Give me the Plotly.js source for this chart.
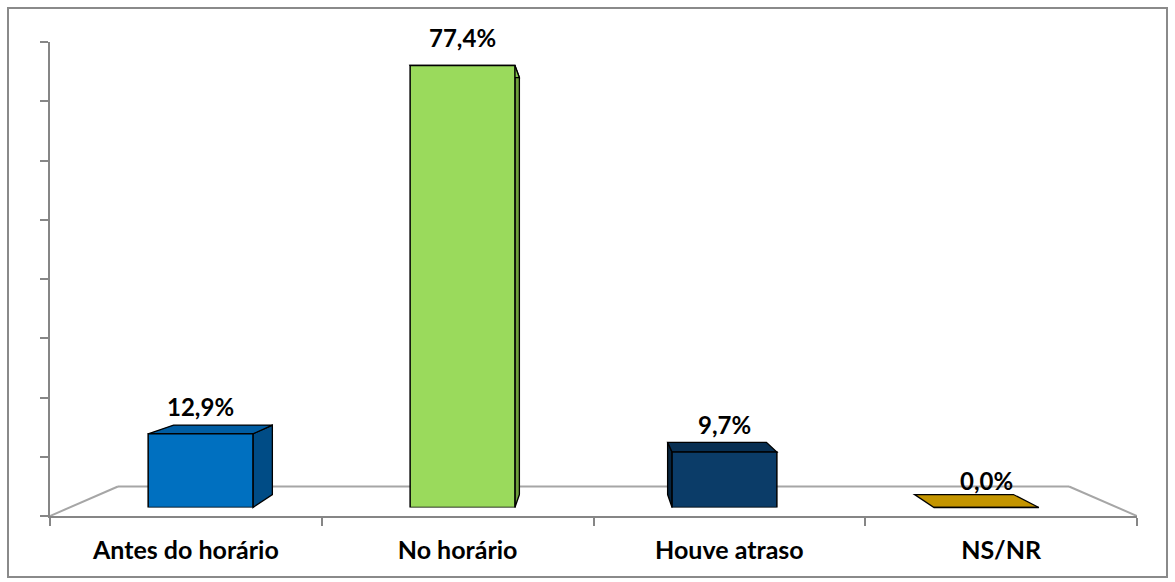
<!DOCTYPE html>
<html>
<head>
<meta charset="utf-8">
<script src="https://cdn.plot.ly/plotly-3.0.1.min.js"></script>
<style>
  html, body { margin: 0; padding: 0; background: #ffffff; }
  #chart { width: 1175px; height: 582px; }
</style>
</head>
<body>
<div id="chart"></div>
<script>
// ---- data ----
const categories = ['Antes do horário', 'No horário', 'Houve atraso', 'NS/NR'];
const values = [12.9, 77.4, 9.7, 0.0];
const frontColors = ['#0070C0', '#9ADA5C', '#0B3C68', '#C49500'];
const topColors = ['#005DA3', '#86C84C', '#082F52', '#C49500'];
const sideColors = ['#004C86', '#6E9E3C', '#06243F', '#9C7700'];

// ---- geometry (styling / layout) ----
const W = 1175, H = 582;
const M = { l: 50, r: 38, t: 42, b: 66 };
const X_RANGE = [-0.5, 3.5];
const Y_RANGE = [0, 80];
const VP = { x: 1.5, y: 39.8 };      // vanishing point in data units
const S_FRONT = 0.964, S_BACK = 0.909, S_FLOOR = 0.875;
const BAR_W = 0.4;
const FONT = 'Lato, "Open Sans", sans-serif';

function proj(X, Y, s) {
  return [VP.x + s * (X - VP.x), VP.y + s * (Y - VP.y)];
}
function pathOf(pts) {
  return 'M ' + pts.map(p => p[0].toFixed(4) + ' ' + p[1].toFixed(4)).join(' L ') + ' Z';
}
function lineShape(a, b, color, width) {
  return { type: 'line', xref: 'x', yref: 'y', x0: a[0], y0: a[1], x1: b[0], y1: b[1],
           line: { color: color, width: width }, layer: 'below' };
}

const shapes = [];
// floor outline
const floorCol = '#a6a6a6';
shapes.push(lineShape(proj(X_RANGE[0], 0, S_FLOOR), proj(X_RANGE[1], 0, S_FLOOR), floorCol, 2));
shapes.push(lineShape(proj(X_RANGE[0], 0, 1), proj(X_RANGE[0], 0, S_FLOOR), floorCol, 2));
shapes.push(lineShape(proj(X_RANGE[1], 0, 1), proj(X_RANGE[1], 0, S_FLOOR), floorCol, 2));

// bar side and top faces
values.forEach((v, i) => {
  const X0 = i - BAR_W / 2, X1 = i + BAR_W / 2;
  let sideX = null;
  if (X1 < VP.x) sideX = X1; else if (X0 > VP.x) sideX = X0;
  if (sideX !== null && v > 0) {
    shapes.push({ type: 'path', xref: 'x', yref: 'y', layer: 'below',
      path: pathOf([proj(sideX, 0, S_FRONT), proj(sideX, v, S_FRONT), proj(sideX, v, S_BACK), proj(sideX, 0, S_BACK)]),
      fillcolor: sideColors[i], line: { color: '#000000', width: 1.3 } });
  }
  shapes.push({ type: 'path', xref: 'x', yref: 'y', layer: 'below',
    path: pathOf([proj(X0, v, S_FRONT), proj(X1, v, S_FRONT), proj(X1, v, S_BACK), proj(X0, v, S_BACK)]),
    fillcolor: topColors[i], line: { color: '#000000', width: 1.3 } });
});

// chart border (pixel -> paper)
const PW = W - M.l - M.r, PH = H - M.t - M.b;
const pxX = px => (px - M.l) / PW;
const pxY = py => (H - M.b - py) / PH;
shapes.push({ type: 'rect', xref: 'paper', yref: 'paper',
  x0: pxX(8), x1: pxX(1167), y0: pxY(577), y1: pxY(8),
  line: { color: '#8a8a8a', width: 2 }, fillcolor: 'rgba(0,0,0,0)', layer: 'below' });

// domains of the bar-front plane
const fx = (VP.x - X_RANGE[0]) / (X_RANGE[1] - X_RANGE[0]);
const fy = (VP.y - Y_RANGE[0]) / (Y_RANGE[1] - Y_RANGE[0]);
const x2dom = [fx * (1 - S_FRONT), fx + S_FRONT * (1 - fx)];
const y2dom = [fy * (1 - S_FRONT), fy + S_FRONT * (1 - fy)];

const xIdx = categories.map((c, i) => i);

const traces = [{
  type: 'bar', x: xIdx, y: values, xaxis: 'x2', yaxis: 'y2',
  width: BAR_W,
  marker: { color: frontColors, line: { color: '#000000', width: 1.5 } },
  hoverinfo: 'none', showlegend: false
}, {
  // invisible trace to activate the category-label axis
  type: 'scatter', x: xIdx, y: values, xaxis: 'x3', yaxis: 'y',
  mode: 'markers', marker: { opacity: 0 }, hoverinfo: 'none', showlegend: false
}];

const annotations = values.map((v, i) => ({
  xref: 'x2', yref: 'y2', x: i, y: v,
  text: v.toFixed(1).replace('.', ',') + '%',
  showarrow: false, yanchor: 'bottom', yshift: 11,
  font: { family: FONT, size: 24, color: '#000000', weight: 700 }
}));

const axisGrey = '#868686';
const layout = {
  width: W, height: H,
  margin: M,
  paper_bgcolor: '#ffffff', plot_bgcolor: 'rgba(0,0,0,0)',
  showlegend: false,
  xaxis: {
    range: X_RANGE, tickvals: [-0.5, 0.5, 1.5, 2.5, 3.5], showticklabels: false,
    ticks: 'outside', ticklen: 8, tickwidth: 2, tickcolor: axisGrey,
    showline: true, linecolor: axisGrey, linewidth: 2, showgrid: false, zeroline: false,
    fixedrange: true
  },
  yaxis: {
    range: Y_RANGE, tickvals: [0, 10, 20, 30, 40, 50, 60, 70, 80], showticklabels: false,
    ticks: 'outside', ticklen: 8, tickwidth: 2, tickcolor: axisGrey,
    showline: true, linecolor: axisGrey, linewidth: 2, showgrid: false, zeroline: false,
    fixedrange: true
  },
  xaxis3: {
    overlaying: 'x', anchor: 'y', side: 'bottom', range: X_RANGE,
    tickvals: xIdx, ticktext: categories, ticks: '', ticklabelstandoff: 17,
    showline: false, showgrid: false, zeroline: false,
    tickfont: { family: FONT, size: 25, color: '#000000', weight: 700 }
  },
  xaxis2: { domain: x2dom, anchor: 'y2', range: X_RANGE, visible: false, fixedrange: true },
  yaxis2: { domain: y2dom, anchor: 'x2', range: Y_RANGE, visible: false, fixedrange: true },
  shapes: shapes,
  annotations: annotations
};

Plotly.newPlot('chart', traces, layout, { displayModeBar: false, staticPlot: true });
</script>
</body>
</html>
